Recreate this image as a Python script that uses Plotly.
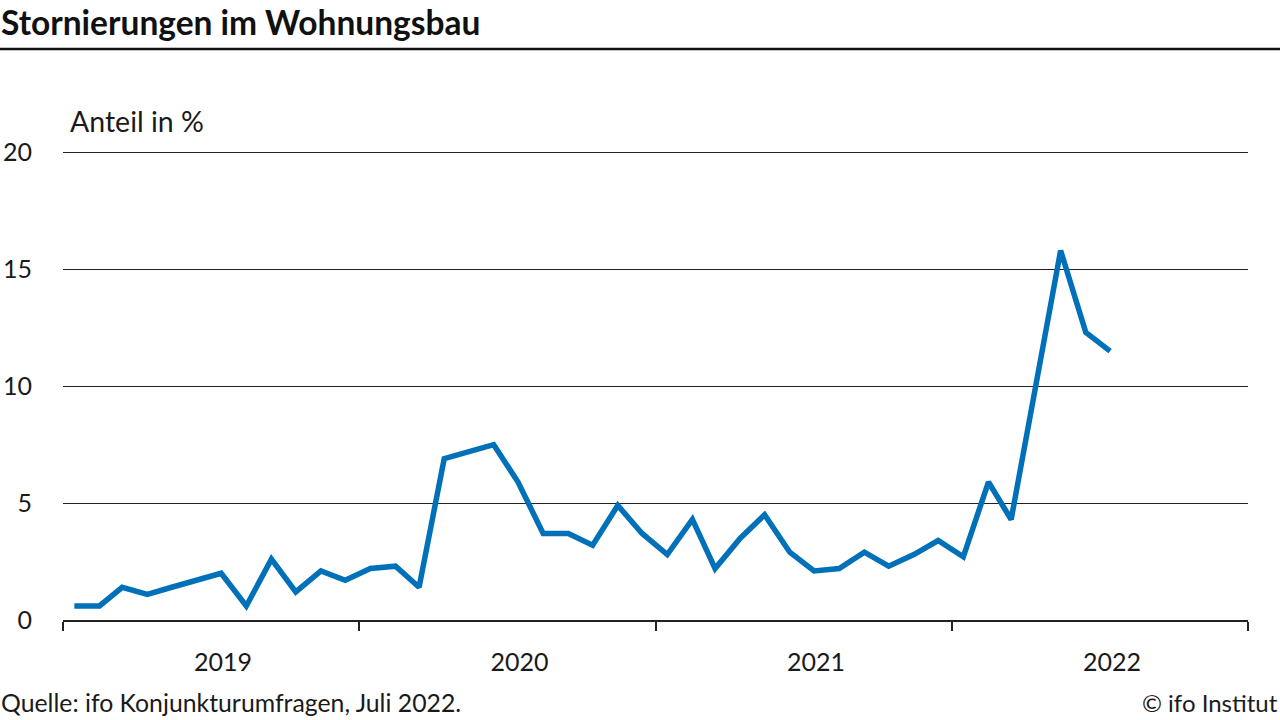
import pandas as pd
import plotly.graph_objects as go

# monthly share of cancelled residential construction orders, Jan 2019 - Jul 2022
shares_2019 = [0.6, 0.6, 1.4, 1.1, 1.4, 1.7, 2.0, 0.6, 2.6, 1.2, 2.1, 1.7]
shares_2020 = [2.2, 2.3, 1.4, 6.9, 7.2, 7.5, 5.9, 3.7, 3.7, 3.2, 4.9, 3.7]
shares_2021 = [2.8, 4.3, 2.2, 3.5, 4.5, 2.9, 2.1, 2.2, 2.9, 2.3, 2.8, 3.4]
shares_2022 = [2.7, 5.9, 4.3, 10.1, 15.8, 12.3, 11.5]

values = shares_2019 + shares_2020 + shares_2021 + shares_2022
months = pd.date_range("2019-01-01", periods=len(values), freq="MS") + pd.Timedelta(days=14)

y_ticks = [0, 5, 10, 15, 20]

FONT = "Lato"
BLUE = "#0070b8"
INK = "#1a1a1a"

W, H = 1280, 720
L, R, T, B = 63, 32, 150, 100
pw, ph = W - L - R, H - T - B


def px_x(x):
    return (x - L) / pw


def px_y(y):
    return (H - B - y) / ph


fig = go.Figure()
fig.add_trace(go.Scatter(
    x=months, y=values, mode="lines",
    line=dict(color=BLUE, width=5.5),
    hoverinfo="x+y", showlegend=False,
))

fig.update_layout(
    width=W, height=H,
    margin=dict(l=L, r=R, t=T, b=B),
    paper_bgcolor="white", plot_bgcolor="white",
    font=dict(family=FONT, size=25, color=INK),
    xaxis=dict(
        range=["2019-01-01", "2023-01-01"],
        tickmode="linear", tick0="2019-01-01", dtick="M12",
        ticklabelmode="period", tickformat="%Y",
        ticks="outside", ticklen=9, tickcolor="#222", tickwidth=1.5,
        showline=True, linecolor="#222", linewidth=1.5,
        showgrid=False, zeroline=False,
        ticklabelstandoff=10, ticklabelshift=12, automargin=False,
        tickfont=dict(size=25),
    ),
    yaxis=dict(
        range=[0, 20.1], tickvals=y_ticks,
        showgrid=True, gridcolor="#222", gridwidth=1.2,
        zeroline=False, showline=False, ticks="",
        ticklabelstandoff=30, automargin=False,
        tickfont=dict(size=25),
    ),
    shapes=[dict(
        type="line", xref="paper", yref="paper",
        x0=px_x(0), x1=px_x(W), y0=px_y(49), y1=px_y(49),
        line=dict(color="#111", width=2.5),
    )],
    annotations=[
        dict(text="<b>Stornierungen im Wohnungsbau</b>", xref="paper", yref="paper",
             x=px_x(-1), y=px_y(22), xanchor="left", yanchor="middle",
             showarrow=False, font=dict(size=33.5, color="#111")),
        dict(text="Anteil in %", xref="paper", yref="paper",
             x=px_x(68), y=px_y(121), xanchor="left", yanchor="middle",
             showarrow=False, font=dict(size=28.5)),
        dict(text="Quelle: ifo Konjunkturumfragen, Juli 2022.", xref="paper", yref="paper",
             x=px_x(-1), y=px_y(702), xanchor="left", yanchor="middle",
             showarrow=False, font=dict(size=24.8)),
        dict(text="© ifo Institut", xref="paper", yref="paper",
             x=px_x(1280), y=px_y(702), xanchor="right", yanchor="middle",
             showarrow=False, font=dict(size=24)),
    ],
)

fig.write_html(
    "out.html",
    config={"displayModeBar": False},
    post_script="document.body.style.margin='0';document.body.style.overflow='hidden';",
)
